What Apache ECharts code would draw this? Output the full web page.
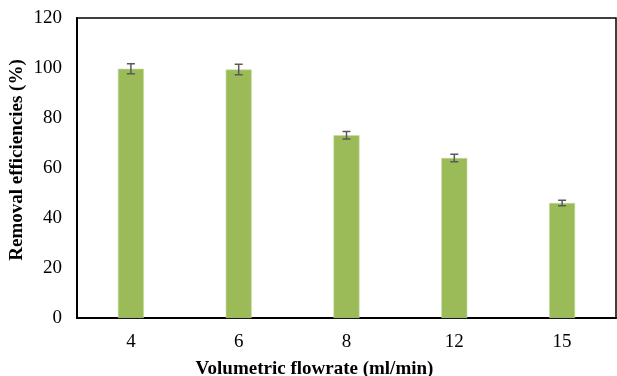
<!DOCTYPE html>
<html><head><meta charset="utf-8">
<script src="https://cdn.jsdelivr.net/npm/echarts@6/dist/echarts.min.js"></script>
<style>html,body{margin:0;padding:0;background:#fff}#c{width:617px;height:376px}</style>
</head><body><div id="c"></div>
<script>
var categories = ['4', '6', '8', '12', '15'];
var removal = [99.7, 99.4, 73.1, 64.0, 46.0];
var errors = [2.0, 2.1, 1.5, 1.5, 1.1];
var yTicks = [0, 20, 40, 60, 80, 100, 120];

var chart = echarts.init(document.getElementById('c'));
var font = "'Liberation Serif', 'Times New Roman', serif";
chart.setOption({
  animation: false,
  grid: {left: 77, right: 1, top: 18, bottom: 58, show: true, borderColor: '#000', borderWidth: 1.5,
         containLabel: false, outerBoundsMode: 'none'},
  xAxis: {
    type: 'category', data: categories,
    axisLine: {lineStyle: {color: '#000', width: 2}},
    axisTick: {show: false},
    axisLabel: {fontFamily: font, fontSize: 19, color: '#000', margin: 15},
    name: 'Volumetric flowrate (ml/min)', nameLocation: 'middle', nameGap: 42,
    nameTextStyle: {fontFamily: font, fontSize: 19, fontWeight: 'bold', color: '#000', padding: [0, 64, 0, 0]}
  },
  yAxis: {
    type: 'value', min: 0, max: 120, interval: 20,
    axisLine: {show: true, lineStyle: {color: '#000', width: 2}},
    axisTick: {show: false},
    splitLine: {show: false},
    axisLabel: {fontFamily: font, fontSize: 19, color: '#000', margin: 15,
      formatter: function (v) { return yTicks.indexOf(v) >= 0 ? String(v) : ''; }},
    name: 'Removal efficiencies (%)', nameLocation: 'middle', nameGap: 50, nameMoveOverlap: false,
    nameTextStyle: {fontFamily: font, fontSize: 19, fontWeight: 'bold', color: '#000', padding: [0, 0, 0, 16]}
  },
  series: [{
    type: 'bar', data: removal, barWidth: 26,
    itemStyle: {color: '#9BBB59', borderColor: '#C5DBA0', borderWidth: 0.6}
  }, {
    type: 'custom',
    data: removal.map(function (v, i) { return [i, v - errors[i], v + errors[i]]; }),
    renderItem: function (params, api) {
      var lo = api.coord([api.value(0), api.value(1)]);
      var hi = api.coord([api.value(0), api.value(2)]);
      var hw = 4;
      var st = {stroke: '#595959', lineWidth: 1.5};
      return {type: 'group', children: [
        {type: 'line', shape: {x1: lo[0], y1: lo[1], x2: hi[0], y2: hi[1]}, style: st},
        {type: 'line', shape: {x1: lo[0] - hw, y1: lo[1], x2: lo[0] + hw, y2: lo[1]}, style: st},
        {type: 'line', shape: {x1: hi[0] - hw, y1: hi[1], x2: hi[0] + hw, y2: hi[1]}, style: st}
      ]};
    },
    z: 5
  }]
});
</script></body></html>
